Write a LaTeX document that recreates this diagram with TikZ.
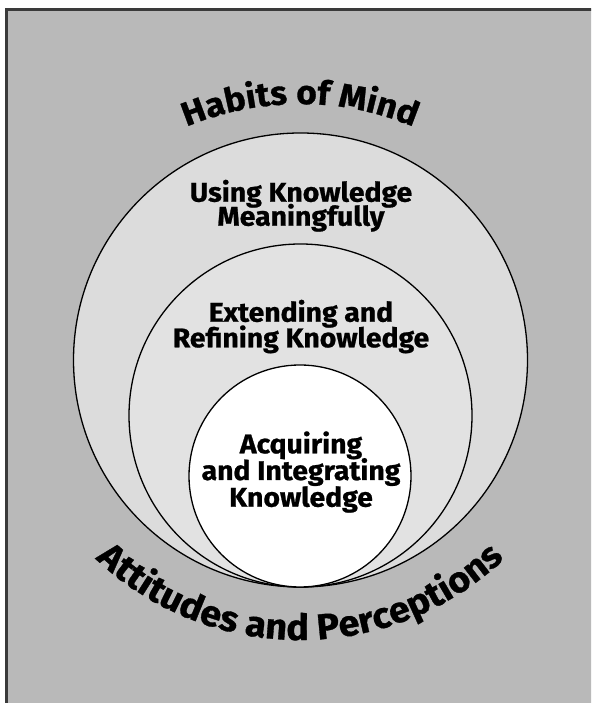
\documentclass[tikz,border=0pt]{standalone}
\usepackage{fontspec}
\setmainfont{Fira Sans}[BoldFeatures={FakeBold=0.9, FakeStretch=1.05}]
\usetikzlibrary{decorations.text}
\definecolor{bggray}{HTML}{B9B9B9}
\definecolor{framegray}{HTML}{3A3A3A}
\definecolor{ringouter}{HTML}{DCDCDC}
\definecolor{ringmiddle}{HTML}{E2E2E2}
\begin{document}
\begin{tikzpicture}[x=1pt,y=1pt,
  ring/.style={circle, draw=black, line width=1.3pt, inner sep=0pt, outer sep=0pt},
  label/.style={anchor=base, inner sep=0pt, font=\fontsize{27}{27}\selectfont\bfseries},
  arctext/.style 2 args={decorate, decoration={text along path, text align=center,
      text format delimiters={|}{|}, text={|\fontsize{#1}{#1}\selectfont\bfseries|#2}}}
]
\useasboundingbox (0,0) rectangle (591,703);
% panel with a dark frame on the top and left
\begin{scope}
  \clip (0,0) rectangle (591,703);
  \draw[line width=3pt, draw=framegray, fill=bggray] (6.5,693.5) rectangle (640,-40);
\end{scope}

% nested circles, all touching at the bottom
\node[ring, fill=ringouter,  minimum size=454pt] (outer)  at (300.5,343)   {};
\node[ring, fill=ringmiddle, minimum size=343pt] (middle) at (300.5,287.5) {};
\node[ring, fill=white,      minimum size=222pt] (inner)  at (300,227)     {};

% circle labels
\node[label] (use1) at (301,501.3) {Using Knowledge};
\node[label] (use2) at (301,477.3) {Meaningfully};
\node[label] (ext1) at (301,381.3) {Extending and};
\node[label] (ext2) at (301,355.7) {Refining Knowledge};
\node[label] (acq1) at (301,249.7) {Acquiring};
\node[label] (acq2) at (301,223)   {and Integrating};
\node[label] (acq3) at (301,196.3) {Knowledge};

% curved titles above and below
\path[arctext={33.5}{Habits of Mind}]
  ([shift={(300,305)}]140:294) arc[start angle=140, end angle=40, radius=294pt];
\path[arctext={36}{Attitudes and Perceptions}]
  ([shift={(300,361)}]220:298) arc[start angle=220, end angle=320, radius=298pt];
\end{tikzpicture}
\end{document}
